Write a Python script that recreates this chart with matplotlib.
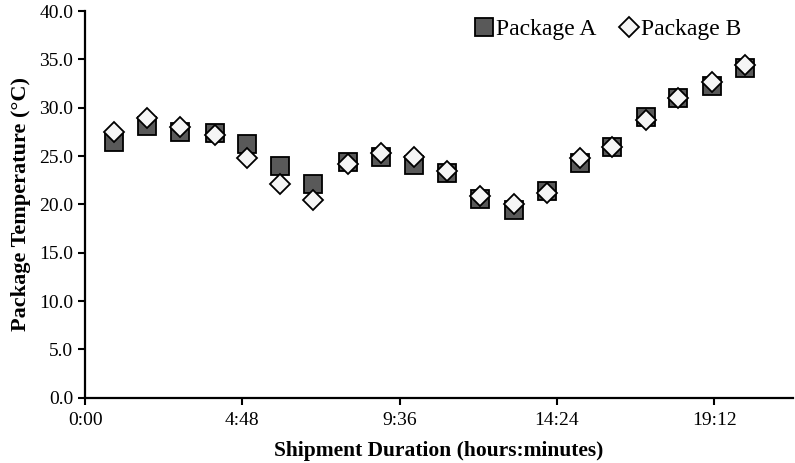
import matplotlib
matplotlib.use("Agg")
import matplotlib.pyplot as plt
from matplotlib.ticker import FuncFormatter

# elapsed shipment time in hours
hours = [0.88, 1.89, 2.90, 3.96, 4.94, 5.94, 6.95, 8.02, 9.02, 10.03,
         11.03, 12.04, 13.08, 14.08, 15.09, 16.09, 17.10, 18.10, 19.14, 20.15]

# package temperatures (deg C)
pkg_a = [26.5, 28.1, 27.5, 27.35, 26.2, 24.0, 22.1, 24.4, 24.9, 24.1,
         23.3, 20.6, 19.4, 21.4, 24.3, 25.9, 29.0, 31.0, 32.25, 34.1]
pkg_b = [27.5, 28.9, 28.0, 27.2, 24.8, 22.1, 20.45, 24.15, 25.35, 24.9,
         23.5, 20.85, 20.0, 21.15, 24.8, 25.95, 28.7, 31.0, 32.7, 34.4]

xticks = [0, 4.8, 9.6, 14.4, 19.2]

plt.rcParams['font.family'] = ['Liberation Serif', 'DejaVu Serif']

fig = plt.figure(figsize=(7.95, 4.63), dpi=100)
ax = fig.add_axes([0.107, 0.141, 0.8905, 0.835])

ax.plot(hours, pkg_a, linestyle='none', marker='s', markersize=12.5,
        markerfacecolor='#595959', markeredgecolor='black', markeredgewidth=1.3,
        label='Package A')
ax.plot(hours, pkg_b, linestyle='none', marker='D', markersize=10.5,
        markerfacecolor='#f5f5f5', markeredgecolor='black', markeredgewidth=1.3,
        label='Package B')

ax.set_xlim(0, 21.6)
ax.set_ylim(0, 40)
ax.set_xticks(xticks)
ax.set_yticks(range(0, 41, 5))


def hm(x, pos):
    total = int(round(x * 60))
    return "%d:%02d" % (total // 60, total % 60)


ax.xaxis.set_major_formatter(FuncFormatter(hm))
ax.yaxis.set_major_formatter(FuncFormatter(lambda v, p: "%.1f" % v))

for side in ['top', 'right']:
    ax.spines[side].set_visible(False)
for side in ['left', 'bottom']:
    ax.spines[side].set_linewidth(1.6)
ax.tick_params(direction='out', length=5, width=1.5, labelsize=14)
ax.tick_params(axis='x', pad=5)

ax.set_xlabel('Shipment Duration (hours:minutes)', fontsize=15.5,
              fontweight='bold', labelpad=9)
ax.set_ylabel('Package Temperature (\u00b0C)', fontsize=16,
              fontweight='bold', labelpad=6)

ax.legend(loc='upper right', bbox_to_anchor=(0.94, 1.005), ncol=2,
          frameon=False, fontsize=17, handlelength=0.8, handletextpad=0.1,
          columnspacing=1.0, borderaxespad=0)

fig.savefig('out.png', dpi=100)
